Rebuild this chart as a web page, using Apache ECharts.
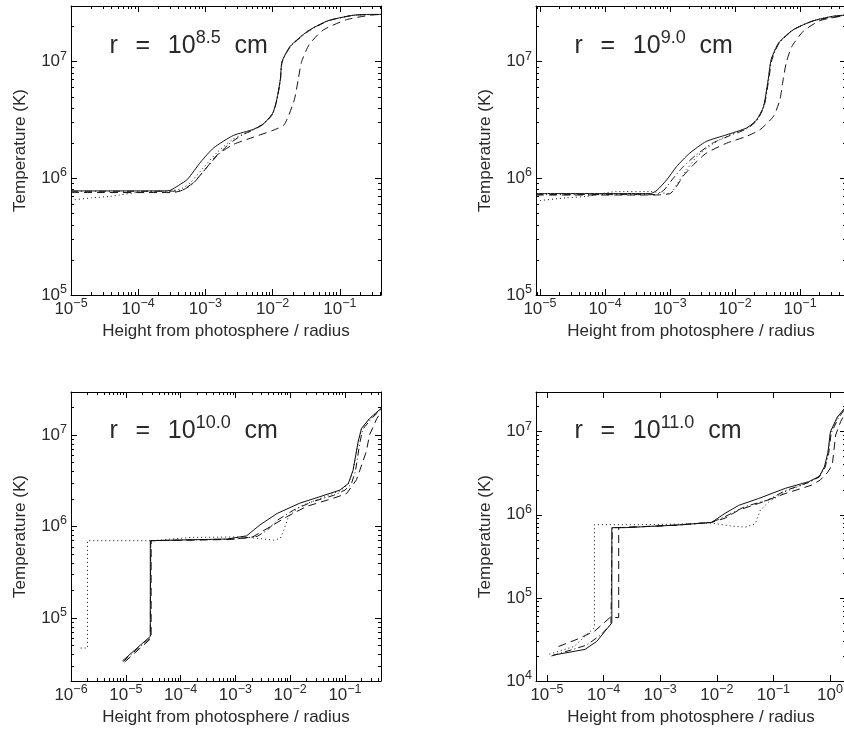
<!DOCTYPE html>
<html><head><meta charset="utf-8">
<script src="https://cdn.jsdelivr.net/npm/echarts@6.0.0/dist/echarts.min.js"></script>
<style>html,body{margin:0;padding:0;background:#fff}#c{width:844px;height:734px}</style>
</head><body><div id="c"></div><script>
// ---- panel labels (exponent of r in cm) ----
const radiusExp = ['8.5', '9.0', '10.0', '11.0'];
// ---- axis ranges ----
const xRange = [[1e-5, 0.41], [8.68e-6, 0.51], [1e-6, 0.454], [6.4e-6, 1.92]];
const yRange = [[1e5, 3e7], [1e5, 3e7], [2.05e4, 2.95e7], [1e4, 3e7]];
const xTitle = 'Height from photosphere / radius';
const yTitle = 'Temperature (K)';

// ---- r = 10^8.5 cm ----
const r85_solid = [[1e-5,7.8e5],[2.5e-4,7.8e5],[3.0e-4,7.9e5],[4.0e-4,8.7e5],[5.4e-4,9.8e5],[8.5e-4,1.38e6],[1.32e-3,1.82e6],[2.6e-3,2.33e6],[5.2e-3,2.63e6],[7.4e-3,2.95e6],[1.0e-2,3.6e6],[1.15e-2,4.7e6],[1.3e-2,7.0e6],[1.38e-2,1.0e7],[1.82e-2,1.35e7],[3.3e-2,1.82e7],[6.6e-2,2.24e7],[0.16,2.5e7],[0.28,2.54e7],[0.41,2.54e7]];
const r85_dashed = [[1e-5,7.55e5],[3.2e-4,7.55e5],[4.5e-4,7.9e5],[6.8e-4,9.3e5],[1.07e-3,1.26e6],[1.48e-3,1.58e6],[2.6e-3,1.95e6],[4.7e-3,2.21e6],[1.05e-2,2.6e6],[1.5e-2,2.9e6],[2.1e-2,4.7e6],[2.4e-2,7.0e6],[2.7e-2,1.0e7],[3.5e-2,1.4e7],[5.6e-2,1.86e7],[0.126,2.29e7],[0.28,2.5e7],[0.41,2.54e7]];
const r85_dotted = [[1e-5,6.5e5],[2e-5,6.8e5],[3.8e-5,7.0e5],[1.2e-4,7.7e5],[3.0e-4,7.8e5],[4.5e-4,8.2e5],[6.0e-4,9.2e5],[9.3e-4,1.23e6],[1.48e-3,1.66e6],[2.5e-3,2.14e6],[5.2e-3,2.63e6],[7.4e-3,2.95e6],[1.0e-2,3.6e6],[1.15e-2,4.7e6],[1.3e-2,7.0e6],[1.38e-2,1.0e7],[1.82e-2,1.35e7],[3.3e-2,1.82e7],[6.6e-2,2.24e7],[0.16,2.5e7],[0.41,2.54e7]];
const r85_dashdot = [[1e-5,7.75e5],[3.0e-4,7.75e5],[4.5e-4,7.9e5],[6.5e-4,9.0e5],[1.0e-3,1.2e6],[1.4e-3,1.5e6],[2.2e-3,1.95e6],[3.5e-3,2.35e6],[5.2e-3,2.6e6],[7.4e-3,2.93e6],[1.0e-2,3.55e6],[1.16e-2,4.7e6],[1.31e-2,7.0e6],[1.39e-2,1.0e7],[1.85e-2,1.35e7],[3.4e-2,1.82e7],[6.8e-2,2.24e7],[0.16,2.5e7],[0.41,2.54e7]];

// ---- r = 10^9.0 cm ----
const r90_solid = [[8.68e-6,7.4e5],[5.0e-4,7.4e5],[6.3e-4,7.9e5],[8.9e-4,9.7e5],[1.26e-3,1.26e6],[2.0e-3,1.64e6],[3.6e-3,2.07e6],[7.4e-3,2.36e6],[1.5e-2,2.7e6],[2.14e-2,3.16e6],[2.75e-2,4.13e6],[3.24e-2,7.0e6],[3.6e-2,1.04e7],[4.7e-2,1.45e7],[7.9e-2,1.88e7],[0.16,2.24e7],[0.32,2.45e7],[0.51,2.51e7]];
const r90_dashed = [[8.68e-6,7.2e5],[6e-4,7.2e5],[1e-3,7.4e5],[1.26e-3,8.5e5],[1.58e-3,1.04e6],[2.3e-3,1.31e6],[3.6e-3,1.64e6],[7.4e-3,2.0e6],[1.5e-2,2.29e6],[2.4e-2,2.6e6],[3.9e-2,3.4e6],[4.9e-2,4.7e6],[5.5e-2,7.0e6],[6.2e-2,1.0e7],[7.5e-2,1.35e7],[0.112,1.82e7],[0.2,2.24e7],[0.42,2.45e7],[0.51,2.48e7]];
const r90_dotted = [[8.68e-6,6.4e5],[2.5e-5,6.8e5],[5.2e-5,7.0e5],[1.5e-4,7.7e5],[5e-4,7.7e5],[1e-3,7.4e5],[1.26e-3,8.8e5],[1.8e-3,1.18e6],[2.6e-3,1.54e6],[4.7e-3,2.0e6],[7.4e-3,2.3e6],[1.5e-2,2.7e6],[2.14e-2,3.16e6],[2.75e-2,4.13e6],[3.24e-2,7.0e6],[3.6e-2,1.04e7],[4.7e-2,1.45e7],[7.9e-2,1.88e7],[0.16,2.24e7],[0.32,2.45e7],[0.51,2.51e7]];
const r90_dashdot = [[8.68e-6,7.25e5],[6e-4,7.25e5],[8e-4,7.9e5],[1.12e-3,1.0e6],[1.6e-3,1.26e6],[2.5e-3,1.58e6],[4.5e-3,2.0e6],[8e-3,2.3e6],[1.5e-2,2.65e6],[2.14e-2,3.1e6],[2.8e-2,4.13e6],[3.3e-2,7.0e6],[3.7e-2,1.04e7],[4.8e-2,1.45e7],[8e-2,1.88e7],[0.16,2.24e7],[0.51,2.51e7]];

// ---- r = 10^10.0 cm ----
const r100_solid = [[8.7e-6,3.4e4],[2.8e-5,6.3e4],[2.8e-5,7.0e5],[7.1e-4,7.3e5],[1.6e-3,7.9e5],[2.8e-3,1.04e6],[5.8e-3,1.39e6],[1.5e-2,1.8e6],[3.5e-2,2.12e6],[8.1e-2,2.5e6],[0.115,2.95e6],[0.14,4.1e6],[0.174,8.5e6],[0.2,1.18e7],[0.28,1.51e7],[0.454,1.95e7]];
const r100_dashed = [[9.5e-6,3.3e4],[2.9e-5,6.0e4],[2.9e-5,7.0e5],[7e-4,7.2e5],[2.0e-3,7.6e5],[3.8e-3,9.5e5],[8.7e-3,1.28e6],[2e-2,1.66e6],[6.2e-2,2.04e6],[0.107,2.29e6],[0.162,3.24e6],[0.186,4.1e6],[0.245,6.6e6],[0.28,1.0e7],[0.38,1.51e7],[0.454,1.78e7]];
const r100_dotted = [[1.5e-6,4.7e4],[2.0e-6,4.7e4],[2.0e-6,7.0e5],[3e-5,7.0e5],[1.6e-4,7.6e5],[1.5e-3,7.7e5],[3.2e-3,7.3e5],[5e-3,7.1e5],[6.6e-3,7.4e5],[7.6e-3,9.1e5],[9.3e-3,1.28e6],[1.5e-2,1.66e6],[3.5e-2,2.02e6],[8.1e-2,2.45e6],[0.115,2.9e6],[0.14,4.0e6],[0.174,8.3e6],[0.2,1.16e7],[0.28,1.5e7],[0.454,1.93e7]];
const r100_dashdot = [[9e-6,3.35e4],[2.8e-5,6.1e4],[2.85e-5,7.0e5],[1e-3,7.3e5],[2.5e-3,7.8e5],[3.8e-3,9.1e5],[5.8e-3,1.17e6],[1.15e-2,1.51e6],[2.5e-2,1.86e6],[6.2e-2,2.19e6],[0.1,2.5e6],[0.13,2.9e6],[0.155,4.0e6],[0.185,8.0e6],[0.21,1.15e7],[0.3,1.5e7],[0.454,1.9e7]];

// ---- r = 10^11.0 cm ----
const r110_solid = [[1.3e-5,2.05e4],[4.7e-5,2.4e4],[7.6e-5,3.0e4],[1.07e-4,4.0e4],[1.4e-4,5.0e4],[1.4e-4,7.0e5],[2.4e-4,7.0e5],[1.86e-3,7.5e5],[8.1e-3,8.1e5],[1.4e-2,1.04e6],[2.45e-2,1.3e6],[5.5e-2,1.57e6],[0.162,2.08e6],[0.42,2.5e6],[0.65,2.9e6],[0.8,3.8e6],[0.92,5.6e6],[1.02,1.0e7],[1.35,1.5e7],[1.92,2.0e7]];
const r110_dashed = [[1.6e-5,2.6e4],[3.5e-5,3.2e4],[7e-5,4.0e4],[1.3e-4,5.8e4],[1.85e-4,5.8e4],[1.85e-4,7.0e5],[3e-4,7.1e5],[2e-3,7.5e5],[8.1e-3,8.1e5],[1.4e-2,9.1e5],[2.45e-2,1.14e6],[5.5e-2,1.37e6],[0.162,1.8e6],[0.48,2.28e6],[0.68,2.63e6],[0.9,3.2e6],[1.1,4.0e6],[1.26,9.1e6],[1.55,1.33e7],[1.92,1.72e7]];
const r110_dotted = [[1.1e-5,2.1e4],[3e-5,2.6e4],[6.9e-5,4.4e4],[6.9e-5,7.6e5],[3e-4,7.6e5],[2e-3,7.7e5],[8.1e-3,7.95e5],[1.86e-2,7.3e5],[3.2e-2,7.1e5],[4.8e-2,7.8e5],[5.9e-2,1.14e6],[8.3e-2,1.43e6],[0.162,1.9e6],[0.42,2.45e6],[0.65,2.9e6],[0.8,3.75e6],[0.92,5.5e6],[1.02,9.8e6],[1.35,1.48e7],[1.92,1.98e7]];
const r110_dashdot = [[1.2e-5,2.0e4],[5e-5,2.7e4],[9e-5,3.6e4],[1.35e-4,4.8e4],[1.42e-4,7.0e5],[2.4e-4,7.05e5],[2e-3,7.5e5],[8.1e-3,8.1e5],[1.4e-2,9.5e5],[3.2e-2,1.26e6],[7.9e-2,1.5e6],[0.162,1.95e6],[0.42,2.45e6],[0.65,2.85e6],[0.82,3.7e6],[0.95,5.5e6],[1.05,9.6e6],[1.4,1.45e7],[1.92,1.95e7]];

const panelSeries = [
  {dotted: r85_dotted, dashdot: r85_dashdot, dashed: r85_dashed, solid: r85_solid},
  {dotted: r90_dotted, dashdot: r90_dashdot, dashed: r90_dashed, solid: r90_solid},
  {dotted: r100_dotted, dashdot: r100_dashdot, dashed: r100_dashed, solid: r100_solid},
  {dotted: r110_dotted, dashdot: r110_dashdot, dashed: r110_dashed, solid: r110_solid}
];

// ---- styling / layout ----
const FONT = '"Liberation Sans", Arial, sans-serif';
const TXT = '#2a2a2a';
const LINE = '#111';
const gridPos = [[71, 6], [536, 6], [71, 392], [536, 392]];
const GW = 310, GH = 289;
const xMinorShow = [true, true, true, false];
const dashStyle = {dotted: [1, 3], dashdot: [7, 3, 1, 3], dashed: [8, 5], solid: 'solid'};
const smoothOn = [0.2, 0.2, 0, 0];

function minorVals(lo, hi) {
  const out = [];
  for (let d = Math.floor(Math.log10(lo)); d <= Math.ceil(Math.log10(hi)); d++) {
    for (let k = 2; k <= 9; k++) {
      const v = k * Math.pow(10, d);
      if (v > lo * 1.0001 && v < hi * 0.9999) out.push(Math.log10(v));
    }
  }
  return out;
}
function expLabel(v) {
  const l = Math.log10(v), r = Math.round(l);
  if (Math.abs(l - r) > 1e-6) return '';
  return '{b|10}{e|' + (r < 0 ? '\u2212' + (-r) : r) + '}';
}
const labelRich = {
  b: {fontFamily: FONT, fontSize: 17, fontWeight: 'normal', color: TXT, lineHeight: 24},
  e: {fontFamily: FONT, fontSize: 12.5, fontWeight: 'normal', color: TXT, lineHeight: 13, verticalAlign: 'top'}
};
function logAxis(i, pos, range, withLabel, name, nameGap) {
  const ax = {
    type: 'log', logBase: 10, gridIndex: i, position: pos, min: range[0], max: range[1], splitNumber: 10,
    axisLine: {show: true, onZero: false, lineStyle: {color: '#000', width: 1}},
    axisTick: {show: true, inside: true, length: 6, lineStyle: {color: '#000', width: 1}},
    minorTick: {show: false}, splitLine: {show: false},
    axisLabel: withLabel ? {show: true, formatter: expLabel, rich: labelRich, margin: (pos === 'bottom' ? 2 : 4), fontFamily: FONT, color: TXT} : {show: false}
  };
  if (name) {
    ax.name = name; ax.nameLocation = 'middle'; ax.nameGap = nameGap; ax.nameMoveOverlap = false;
    ax.nameTextStyle = {fontFamily: FONT, fontSize: 17, fontWeight: 'normal', color: TXT};
  }
  return ax;
}
function minorAxis(i, pos, range, show) {
  return {
    type: 'value', gridIndex: i, position: pos, min: Math.log10(range[0]), max: Math.log10(range[1]),
    axisLine: {show: false, onZero: false},
    axisTick: {show: show, inside: true, length: 3, customValues: minorVals(range[0], range[1]), lineStyle: {color: '#000', width: 1}},
    axisLabel: {show: false}, splitLine: {show: false}
  };
}

const grids = [], xAxes = [], yAxes = [], series = [], titles = [];
for (let i = 0; i < 4; i++) {
  const [gx, gy] = gridPos[i];
  grids.push({left: gx, top: gy, width: GW, height: GH, containLabel: false, outerBoundsMode: 'none'});
  xAxes.push(logAxis(i, 'bottom', xRange[i], true, xTitle, 28));
  xAxes.push(logAxis(i, 'top', xRange[i], false));
  xAxes.push(minorAxis(i, 'bottom', xRange[i], xMinorShow[i]));
  xAxes.push(minorAxis(i, 'top', xRange[i], xMinorShow[i]));
  yAxes.push(logAxis(i, 'left', yRange[i], true, yTitle, 42));
  yAxes.push(logAxis(i, 'right', yRange[i], false));
  yAxes.push(minorAxis(i, 'left', yRange[i], true));
  yAxes.push(minorAxis(i, 'right', yRange[i], true));
  const ps = panelSeries[i];
  ['dotted', 'dashdot', 'dashed', 'solid'].forEach(k => {
    series.push({
      type: 'line', xAxisIndex: 4 * i, yAxisIndex: 4 * i, data: ps[k], showSymbol: false, symbol: 'none',
      smooth: smoothOn[i], lineStyle: {color: LINE, width: 1, type: dashStyle[k]}, silent: true, clip: true
    });
  });
  titles.push({
    left: gx + 38.5, top: gy + (i < 2 ? 23 : 22.5), padding: 0,
    text: '{a|r}{q|=}{a|10}{s|' + radiusExp[i] + '}{a|  cm}',
    textStyle: {fontWeight: 'normal', rich: {
      a: {fontFamily: FONT, fontSize: 25, fontWeight: 'normal', color: TXT, lineHeight: 34},
      q: {fontFamily: FONT, fontSize: 25, fontWeight: 'normal', color: TXT, lineHeight: 34, width: 50, align: 'center'},
      s: {fontFamily: FONT, fontSize: 18, fontWeight: 'normal', color: TXT, lineHeight: 18, verticalAlign: 'top'}
    }}
  });
}

const chart = echarts.init(document.getElementById('c'), null, {renderer: 'canvas'});
chart.setOption({
  animation: false, backgroundColor: '#fff',
  title: titles, grid: grids, xAxis: xAxes, yAxis: yAxes, series: series
});
</script></body></html>
